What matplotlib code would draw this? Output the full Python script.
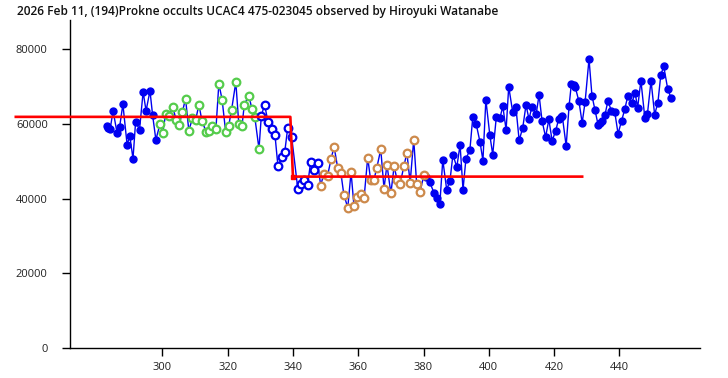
import numpy as np
import matplotlib
matplotlib.use("Agg")
import matplotlib.pyplot as plt

plt.rcParams['font.family'] = ['Open Sans', 'DejaVu Sans']

title = "2026 Feb 11, (194)Prokne occults UCAC4 475-023045 observed by Hiroyuki Watanabe"

# before event (filled blue)
t_pre = [282.9, 283.4, 284.0, 284.9, 286.1, 286.9, 287.9, 289.2, 290.0, 291.0,
         291.8, 293.0, 294.1, 295.0, 296.2, 297.0, 298.0]
f_pre = [59500, 59000, 58600, 63500, 57700, 59200, 65300, 54400, 56900, 50700,
         60600, 58500, 68600, 63500, 68900, 62400, 55800]

# green open circles
t_green = [299.3, 300.1, 301.0, 302.0, 303.2, 304.2, 305.1, 306.1, 307.1, 308.1,
           309.2, 310.2, 311.2, 312.1, 313.4, 314.2, 315.1, 316.4, 317.3, 318.3,
           319.4, 320.3, 321.2, 322.5, 323.4, 324.4, 325.1, 326.5, 327.4, 328.3,
           329.6]
f_green = [60000, 57700, 62600, 62100, 64500, 61100, 59700, 63100, 66800, 58200,
           61500, 61100, 65200, 60900, 57900, 58200, 59500, 58600, 70800, 66500,
           57800, 59400, 63800, 71200, 60100, 59500, 65200, 67600, 64100, 61900,
           53300]

# blue open circles (around ingress)
t_bopen = [330.3, 331.3, 332.4, 333.6, 334.5, 335.4, 336.6, 337.5, 338.4, 339.6,
           341.5, 342.5, 343.5, 344.5, 345.4, 346.5, 347.6]
f_bopen = [62100, 65200, 60400, 58600, 57000, 48700, 51100, 52600, 59000, 56600,
           42500, 43900, 44900, 43700, 49700, 47800, 49500]

# orange open circles
t_orange = [348.5, 349.4, 350.6, 351.7, 352.6, 353.7, 354.7, 355.6, 356.8, 357.8,
            358.7, 359.7, 360.8, 361.8, 362.9, 363.8, 364.8, 365.7, 366.9, 367.9,
            368.8, 370.0, 371.0, 371.9, 372.8, 374.0, 374.9, 375.9, 377.0, 377.9,
            378.9, 380.1]
f_orange = [43500, 46500, 46100, 50700, 53900, 48300, 46800, 41000, 37600, 47100,
            38000, 40500, 41200, 40300, 51000, 45000, 45000, 48300, 53200, 42700,
            49100, 41400, 48700, 45000, 43900, 48700, 52300, 44300, 55800, 43900,
            41800, 46200]

# after event (filled blue)
t_post = [380.9, 381.9, 383.2, 384.1, 385.0, 385.9, 387.1, 388.1, 389.0, 390.2,
          391.2, 392.1, 393.0, 394.2, 395.1, 396.1, 397.3, 398.2, 399.1, 400.3,
          401.2, 402.3, 403.4, 404.3, 405.3, 406.1, 407.3, 408.3, 409.3, 410.4,
          411.4, 412.3, 413.2, 414.5, 415.4, 416.3, 417.4, 418.4, 419.4, 420.5,
          421.4, 422.0, 422.5, 423.7, 424.6, 425.3, 426.0, 426.5, 427.6, 428.6,
          429.5, 430.7, 431.6, 432.5, 433.5, 434.2, 434.7, 435.6, 436.5, 437.5,
          438.6, 439.6, 440.7, 441.7, 442.6, 443.8, 444.8, 445.6, 446.6, 447.8,
          448.6, 449.7, 450.8, 451.8, 452.7, 453.6, 454.8, 455.8]
f_post = [45900, 44400, 41600, 40200, 38600, 50400, 42400, 44800, 51700, 48500,
          54400, 42400, 50700, 53000, 61900, 60100, 55200, 50200, 66500, 57100,
          51800, 61900, 61600, 64700, 58400, 70000, 63300, 64500, 55600, 59000,
          65100, 61300, 64500, 62600, 67800, 60900, 56500, 61200, 55500, 58200,
          61300, 61800, 62200, 54100, 64900, 70800, 70300, 69800, 66100, 60300,
          65900, 77400, 67600, 63800, 59700, 60300, 60700, 62500, 66200, 63600,
          63100, 57400, 60900, 64100, 67600, 65500, 68400, 64400, 71600, 61600,
          62700, 71600, 62500, 65700, 73200, 75400, 69400, 67000]

# model light curve
model_t = [255.1, 339.2, 340.0, 428.6]
model_f = [61900, 61900, 45900, 45900]

blue = '#0000F0'
green = '#55CC4C'
orange = '#CD8A4C'

fig = plt.figure(figsize=(7.28, 3.78), dpi=100)
ax = fig.add_axes([70/728, 30/378, 630/728, 328/378])

t_all = t_pre + t_green + t_bopen + t_orange + t_post
f_all = f_pre + f_green + f_bopen + f_orange + f_post
ax.plot(t_all, f_all, color=blue, lw=1.0, zorder=2)

ax.plot(t_pre, f_pre, 'o', color=blue, ms=5, zorder=3)
ax.plot(t_post, f_post, 'o', color=blue, ms=5, zorder=3)
ax.plot(t_green, f_green, 'o', mfc='white', mec=green, mew=1.6, ms=5.5, zorder=3)
ax.plot(t_bopen, f_bopen, 'o', mfc='white', mec=blue, mew=1.6, ms=5.5, zorder=3)
ax.plot(t_orange, f_orange, 'o', mfc='white', mec=orange, mew=1.6, ms=5.5, zorder=3)

ax.plot(model_t, model_f, color='#FF0000', lw=1.9, zorder=4, clip_on=False)
ax.plot(model_t[2], model_f[2], 's', color='#FF0000', ms=3.5, zorder=4)

ax.set_xlim(271.7, 464.7)
ax.set_ylim(0, 87840)
ax.set_xticks([300, 320, 340, 360, 380, 400, 420, 440])
ax.set_yticks([0, 20000, 40000, 60000, 80000])
ax.spines['top'].set_visible(False)
ax.spines['right'].set_visible(False)
for s in ('left', 'bottom'):
    ax.spines[s].set_linewidth(1.0)
ax.tick_params(axis='y', length=6, width=1.0, pad=10, labelsize=8, labelcolor='#222222')
ax.tick_params(axis='x', length=6, width=1.0, pad=4, labelsize=8, labelcolor='#222222')

fig.text(17/728, 1 - 11/378, title, ha='left', va='center', fontsize=8.6,
         fontweight='semibold', color='#111111')

fig.savefig('out.png', dpi=100)
